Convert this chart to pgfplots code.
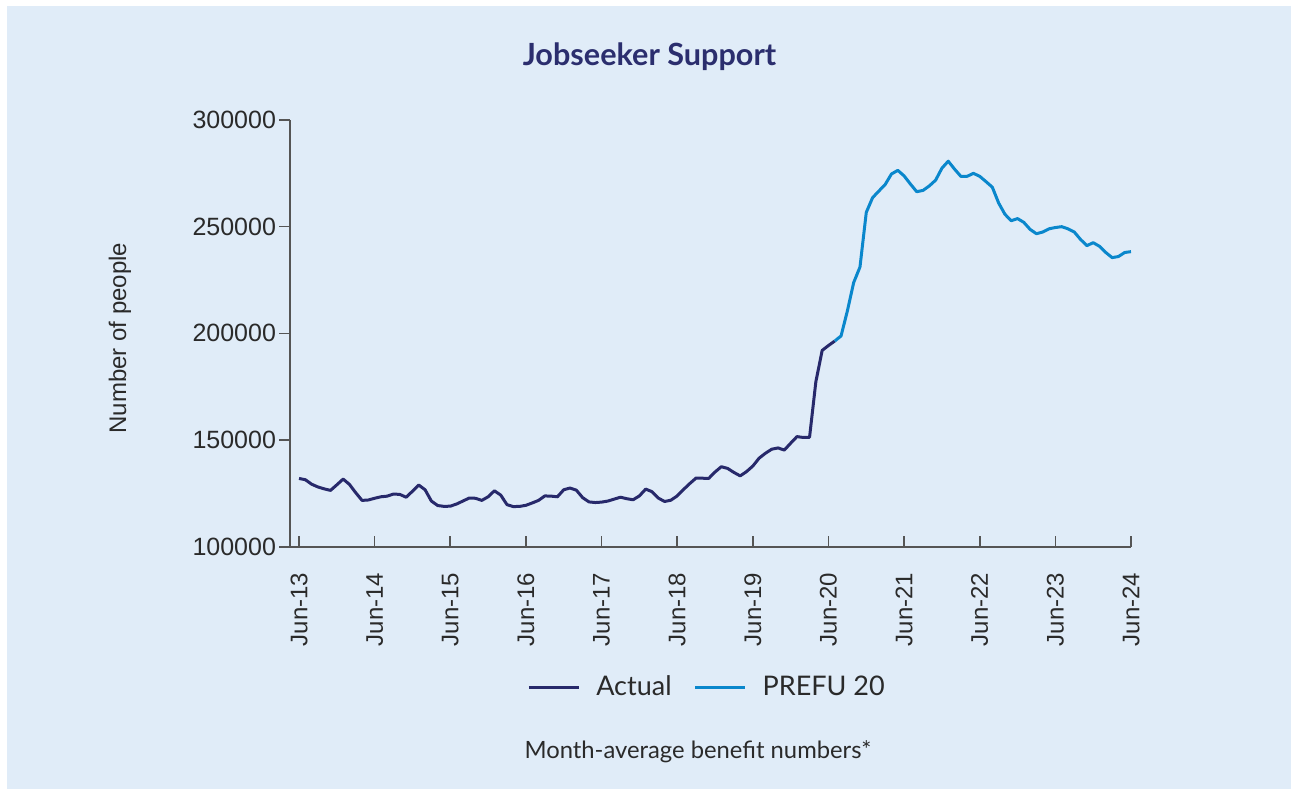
\documentclass[border=0pt]{standalone}
\usepackage{fontspec}
\setmainfont{Lato}
\newfontfamily\arialfont{Liberation Sans}
\usepackage{pgfplots}
\usepackage{pgfplotstable}
\pgfplotsset{compat=1.18}
\definecolor{bg}{HTML}{E0ECF8}
\definecolor{actual}{HTML}{27296B}
\definecolor{prefu}{HTML}{0A87CC}
\definecolor{titlec}{HTML}{2B2E6E}
\definecolor{axisc}{HTML}{555555}
\definecolor{txt}{HTML}{2A2A2A}

\pgfplotstableread{
m v
0 132000
1 131400
2 129300
3 128000
4 127100
5 126400
6 129000
7 131700
8 129200
9 125300
10 121700
11 121900
12 122700
13 123400
14 123700
15 124700
16 124500
17 123200
18 126000
19 128900
20 126700
21 121400
22 119300
23 118900
24 119000
25 120000
26 121400
27 122800
28 122700
29 121700
30 123400
31 126200
32 124200
33 119700
34 118800
35 118900
36 119400
37 120500
38 121700
39 123800
40 123700
41 123400
42 126700
43 127500
44 126500
45 123000
46 121000
47 120700
48 120900
49 121400
50 122300
51 123200
52 122500
53 122000
54 123800
55 127000
56 125800
57 122800
58 121200
59 121800
60 123800
61 126800
62 129600
63 132200
64 132100
65 132000
66 135000
67 137500
68 136700
69 134800
70 133200
71 135200
72 137800
73 141500
74 143800
75 145700
76 146300
77 145300
78 148500
79 151600
80 151200
81 151300
82 177300
83 192000
84 194300
85 196400
}\actualdata

\pgfplotstableread{
m v
85 196400
86 198800
87 210500
88 223800
89 231100
90 256700
91 263600
92 266700
93 269800
94 274700
95 276400
96 273800
97 270000
98 266400
99 267000
100 269100
101 271800
102 277400
103 280700
104 277000
105 273600
106 273600
107 275000
108 273600
109 271100
110 268500
111 261100
112 255800
113 252800
114 253800
115 252000
116 248700
117 246700
118 247500
119 249000
120 249600
121 250000
122 249000
123 247500
124 244000
125 241100
126 242500
127 240800
128 237900
129 235500
130 236000
131 237900
132 238300
}\prefudata

\begin{document}
\begin{tikzpicture}[x=1pt,y=1pt]
\fill[white] (0,0) rectangle (645.5,394.5);
\fill[bg] (3.5,0) rectangle (645.5,391.5);
\useasboundingbox (0,0) rectangle (645.5,394.5);
\begin{axis}[
  at={(145pt,121.15pt)}, anchor=south west,
  scale only axis, width=420.5pt, height=213.35pt,
  xmin=-1.43, xmax=132, ymin=100000, ymax=300000,
  axis x line*=bottom, axis y line*=left,
  axis line style={axisc, line width=1pt, -},
  xtick={0,12,...,132},
  xticklabels={Jun-13,Jun-14,Jun-15,Jun-16,Jun-17,Jun-18,Jun-19,Jun-20,Jun-21,Jun-22,Jun-23,Jun-24},
  ytick={100000,150000,200000,250000,300000},
  yticklabels={100000,150000,200000,250000,300000},
  scaled y ticks=false,
  tick label style={font=\arialfont\fontsize{12.5}{14}\selectfont, text=txt},
  xtick align=inside, ytick align=outside,
  major tick length=5.5pt,
  tick style={axisc, line width=0.8pt},
  xticklabel style={rotate=90, anchor=east, xshift=-9.5pt, font=\arialfont\fontsize{12}{14}\selectfont},
  yticklabel style={xshift=2pt},
  legend columns=2,
  legend style={at={(0.497,-0.3288)}, anchor=center, draw=none, fill=none,
    font=\fontsize{13.5}{16}\selectfont, text=txt,
    /tikz/every even column/.append style={column sep=9pt}},
  legend image code/.code={\draw[#1] (0pt,0pt) -- (25pt,0pt); \path (31pt,0pt);},
]
\addplot[actual, line width=1.5pt, line join=round] table[x=m, y=v] {\actualdata};
\addlegendentry{Actual}
\addplot[prefu, line width=1.5pt, line join=round] table[x=m, y=v] {\prefudata};
\addlegendentry{PREFU 20}
\end{axis}
\node[rotate=90, font=\arialfont\fontsize{12}{14}\selectfont, text=txt] at (60,225.5) {Number of people};
\node[font=\bfseries\fontsize{15.3}{18}\selectfont, text=titlec] at (324.75,366) {Jobseeker Support};
\node[font=\fontsize{11.9}{14}\selectfont, text=txt] at (349,18.5) {Month-average benefit numbers*};
\end{tikzpicture}
\end{document}
